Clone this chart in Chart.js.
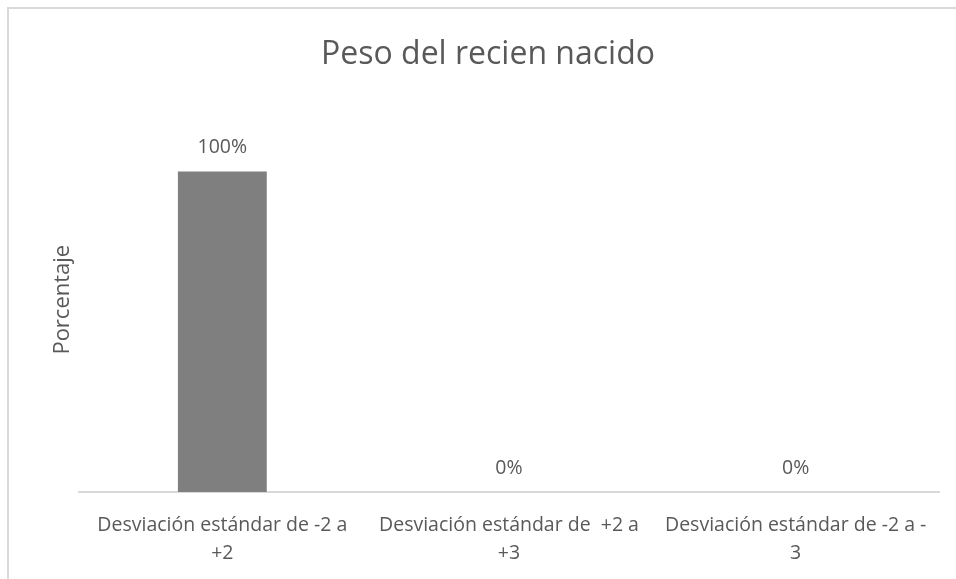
<!DOCTYPE html>
<html>
<head>
<meta charset="utf-8">
<script src="https://cdn.jsdelivr.net/npm/chart.js@4/dist/chart.umd.min.js"></script>
<style>
  html, body { margin: 0; padding: 0; background: #fff; overflow: hidden; }
  #frame {
    position: absolute; left: 7px; top: 7px; width: 1000px; height: 1000px;
    border-top: 2px solid #d9d9d9; border-left: 2px solid #d9d9d9;
  }
  #wrap { position: absolute; left: 0; top: 0; width: 956px; height: 579px; }
</style>
</head>
<body>
<div id="frame"></div>
<div id="wrap"><canvas id="pesoChart"></canvas></div>
<script>
  const categories = [
    ['Desviación estándar de -2 a', '+2'],
    ['Desviación estándar de  +2 a', '+3'],
    ['Desviación estándar de -2 a -', '3']
  ];
  const percentages = [100, 0, 0];
  const yMax = 120;

  const textColor = '#595959';
  const fontFamily = '"Open Sans", sans-serif';

  // value labels above each bar
  const valueLabels = {
    id: 'valueLabels',
    afterDatasetsDraw(chart) {
      const ctx = chart.ctx;
      const meta = chart.getDatasetMeta(0);
      ctx.save();
      ctx.font = '19.5px ' + fontFamily;
      ctx.fillStyle = textColor;
      ctx.textAlign = 'center';
      ctx.textBaseline = 'alphabetic';
      meta.data.forEach((bar, i) => {
        ctx.fillText(percentages[i] + '%', bar.x, bar.y - 18.5);
      });
      ctx.restore();
    }
  };

  const ctx = document.getElementById('pesoChart').getContext('2d');
  new Chart(ctx, {
    type: 'bar',
    data: {
      labels: categories,
      datasets: [{
        label: 'Porcentaje',
        data: percentages,
        backgroundColor: '#7f7f7f',
        borderWidth: 0,
        categoryPercentage: 1,
        barPercentage: 0.31
      }]
    },
    options: {
      responsive: true,
      maintainAspectRatio: false,
      animation: false,
      layout: { padding: { left: 37, right: 17, top: 0, bottom: 0 } },
      plugins: {
        legend: { display: false },
        tooltip: { enabled: false },
        title: {
          display: true,
          text: 'Peso del recien nacido',
          color: textColor,
          font: { family: fontFamily, size: 32, weight: 'normal', lineHeight: 1.2 },
          padding: { top: 36, bottom: 33 }
        }
      },
      scales: {
        x: {
          grid: { display: false, drawTicks: false },
          border: { display: true, color: '#d9d9d9', width: 2 },
          ticks: {
            color: textColor,
            padding: 19,
            maxRotation: 0,
            autoSkip: false,
            font: { family: fontFamily, size: 19.5, lineHeight: 1.44 }
          },
          afterFit(scale) { scale.height = 87; }
        },
        y: {
          min: 0,
          max: yMax,
          grid: { display: false, drawTicks: false },
          border: { display: false },
          ticks: { display: false },
          title: {
            display: true,
            text: 'Porcentaje',
            color: textColor,
            font: { family: fontFamily, size: 22, lineHeight: 1.2 },
            padding: { top: 13, bottom: 0 }
          },
          afterFit(scale) { scale.width = 42; }
        }
      }
    },
    plugins: [valueLabels]
  });
</script>
</body>
</html>
